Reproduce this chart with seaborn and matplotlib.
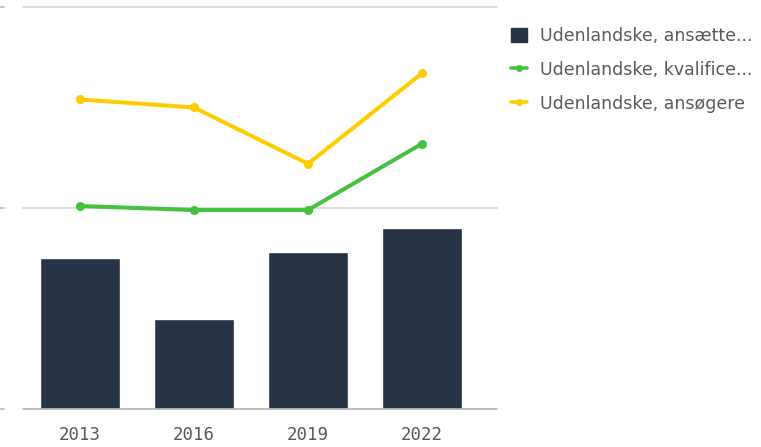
import matplotlib
matplotlib.use("Agg")
import matplotlib.pyplot as plt
import seaborn as sns
import pandas as pd
from matplotlib.lines import Line2D
from matplotlib.patches import Patch

years = ["2013", "2016", "2019", "2022"]
ansaettelser = [75, 45, 78, 90]
kvalificerede = [101, 99, 99, 132]
ansoegere = [154, 150, 122, 167]
legend_labels = ["Udenlandske, ansætte...", "Udenlandske, kvalifice...", "Udenlandske, ansøgere"]

bar_color = "#263445"
green = "#44c23f"
yellow = "#ffcc00"

sns.set_theme(style="white")
plt.rcParams["font.family"] = ["DejaVu Sans"]

fig = plt.figure(figsize=(7.61, 4.47), dpi=100)
W, H = 761, 447
ax = fig.add_axes([23 / W, (H - 409) / H, 474 / W, 402 / H])

df = pd.DataFrame({"year": years, "bars": ansaettelser, "green": kvalificerede, "yellow": ansoegere})

for g in [0, 100, 200]:
    ax.axhline(g, color="#d6d6d6", lw=1.2, zorder=0, clip_on=False)

sns.barplot(data=df, x="year", y="bars", color=bar_color, width=0.7, saturation=1, ax=ax, zorder=2)
sns.lineplot(data=df, x="year", y="green", color=green, lw=2.9, marker="o", markersize=6.5,
             markeredgewidth=0, sort=False, ax=ax, zorder=3)
sns.lineplot(data=df, x="year", y="yellow", color=yellow, lw=2.9, marker="o", markersize=6.5,
             markeredgewidth=0, sort=False, ax=ax, zorder=3)

ax.set_xlim(-0.5, -0.5 + 474 / 114)
ax.set_ylim(0, 200)
ax.axhline(0, color="#b8b8b8", lw=1.2, zorder=4, clip_on=False)
for s in ax.spines.values():
    s.set_visible(False)
ax.set_yticks([])
ax.set_xlabel("")
ax.set_ylabel("")
ax.tick_params(axis="x", length=0, pad=12)
for lbl in ax.get_xticklabels():
    lbl.set_fontfamily("DejaVu Sans Mono")
    lbl.set_fontsize(12.5)
    lbl.set_color("#595959")

# small cut-off tick marks at left edge
for yy in [7, 208, 409]:
    fig.add_artist(Line2D([0 / W, 4 / W], [(H - yy) / H] * 2, color="#bbbbbb", lw=1.2))

handles = [
    Patch(facecolor=bar_color, edgecolor=bar_color),
    Line2D([0], [0], color=green, lw=2.6, marker="o", markersize=5, markeredgewidth=0),
    Line2D([0], [0], color=yellow, lw=2.6, marker="o", markersize=5, markeredgewidth=0),
]
leg = fig.legend(handles, legend_labels, loc="upper left", bbox_to_anchor=(511 / W, 1 - 27 / H),
                 frameon=False, fontsize=12.5, labelcolor="#595959", handlelength=0.9,
                 handleheight=0.9, handletextpad=0.75, labelspacing=0.92, borderaxespad=0,
                 borderpad=0)

fig.savefig("out.png", dpi=100)
